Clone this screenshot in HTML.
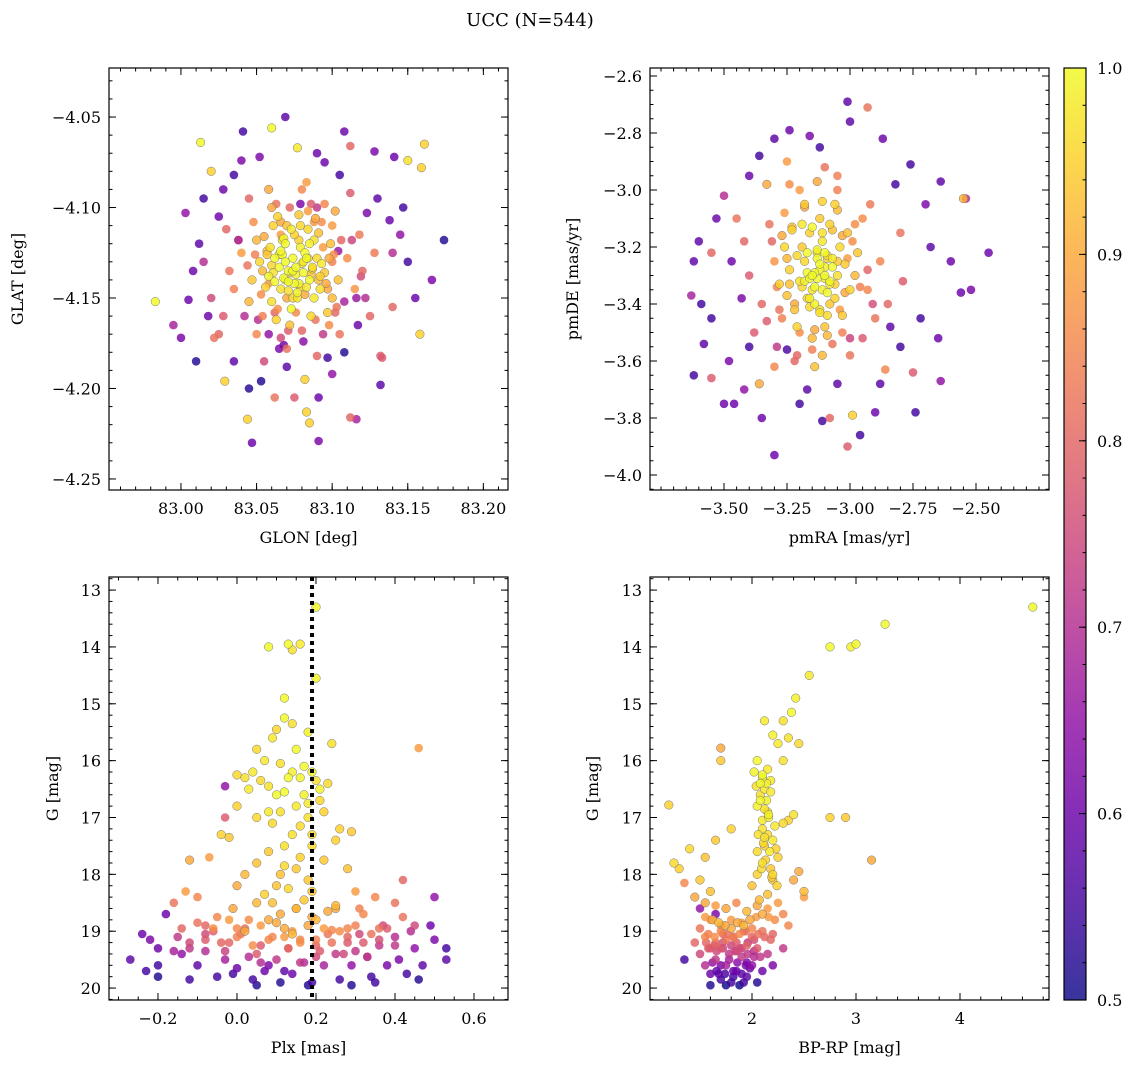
<!DOCTYPE html>
<html><head><meta charset="utf-8"><style>
html,body{margin:0;padding:0;background:#fff;}
svg{display:block;font-family:"DejaVu Serif","Liberation Serif",serif;}
</style></head><body>
<svg id="fig" width="1136" height="1067" viewBox="0 0 1136 1067" xmlns="http://www.w3.org/2000/svg">
<text x="530" y="26" font-size="18" text-anchor="middle">UCC (N=544)</text>
</svg>
<script>
// ---------- data ----------
const posGlon=[83.062,83.071,83.080,83.075,83.066,83.085,83.090,83.058,83.069,83.078,83.088,83.060,83.073,83.095,83.052,83.082,83.065,83.077,83.092,83.056,83.070,83.084,83.099,83.047,83.063,83.086,83.100,83.074,83.068,83.081,83.059,83.093,83.072,83.050,83.104,83.078,83.064,83.088,83.045,83.097,83.067,83.079,83.083,83.061,83.074,83.087,83.071,83.057,83.091,83.076,
83.040,83.110,83.050,83.105,83.035,83.115,83.060,83.095,83.030,83.118,83.070,83.090,83.028,83.125,83.045,83.112,83.080,83.055,83.100,83.048,83.120,83.032,83.132,83.022,83.128,83.062,83.112,83.102,83.058,83.083,83.054,83.098,83.066,83.089,
82.983,82.995,83.000,83.005,83.013,83.010,83.003,83.020,83.020,83.018,83.025,83.029,83.041,83.040,83.044,83.045,83.047,83.060,83.069,83.077,83.091,83.091,83.075,83.108,83.112,83.128,83.141,83.150,83.161,83.159,83.174,83.166,83.158,83.133,83.132,83.116,83.097,83.117,83.150,83.145,83.138,83.155,83.140,83.012,83.008,83.015,83.028,83.035,83.052,83.095,83.105,83.130,83.123,83.035,83.053,83.082,83.083,83.085,83.015,83.140,83.025,83.108,83.065,83.100,83.147,83.090,83.038,83.122,83.070,83.104,
83.055,83.058,83.061,83.064,83.067,83.070,83.073,83.076,83.079,83.082,83.085,83.088,83.091,83.094,83.097,83.100,83.103,83.106,83.053,83.057,83.062,83.066,83.071,83.075,83.080,83.084,83.089,83.093,83.098,83.102,83.049,83.054,83.060,83.065,83.069,83.074,83.078,83.083,83.087,83.092,83.096,83.101,83.044,83.051,83.058,83.066,83.072,83.079,83.086,83.094,83.108,83.113,83.042,83.038,83.116,83.119,83.068,83.081,83.063,83.090,
83.076,83.069,83.084,83.071,83.066,83.079,83.073,83.086,83.062,83.081,83.077,83.068];
const posGlat=[-4.128,-4.135,-4.131,-4.142,-4.145,-4.140,-4.128,-4.138,-4.120,-4.118,-4.150,-4.152,-4.156,-4.136,-4.130,-4.125,-4.133,-4.147,-4.145,-4.144,-4.110,-4.112,-4.120,-4.140,-4.162,-4.160,-4.150,-4.128,-4.139,-4.136,-4.122,-4.131,-4.165,-4.118,-4.140,-4.104,-4.105,-4.118,-4.152,-4.158,-4.126,-4.122,-4.144,-4.136,-4.150,-4.134,-4.141,-4.126,-4.114,-4.137,
-4.125,-4.128,-4.170,-4.170,-4.145,-4.145,-4.100,-4.098,-4.112,-4.115,-4.178,-4.182,-4.160,-4.160,-4.095,-4.092,-4.090,-4.185,-4.110,-4.108,-4.135,-4.135,-4.182,-4.172,-4.125,-4.205,-4.216,-4.102,-4.090,-4.086,-4.160,-4.165,-4.115,-4.106,
-4.152,-4.165,-4.172,-4.151,-4.064,-4.185,-4.103,-4.080,-4.150,-4.160,-4.170,-4.196,-4.058,-4.074,-4.217,-4.200,-4.230,-4.056,-4.050,-4.067,-4.205,-4.229,-4.205,-4.058,-4.066,-4.069,-4.072,-4.074,-4.065,-4.078,-4.118,-4.140,-4.170,-4.183,-4.198,-4.217,-4.183,-4.165,-4.130,-4.115,-4.107,-4.150,-4.155,-4.120,-4.135,-4.095,-4.090,-4.082,-4.072,-4.075,-4.082,-4.095,-4.103,-4.185,-4.196,-4.195,-4.213,-4.219,-4.130,-4.125,-4.105,-4.180,-4.178,-4.192,-4.100,-4.070,-4.118,-4.150,-4.188,-4.124,
-4.116,-4.142,-4.110,-4.156,-4.118,-4.150,-4.112,-4.158,-4.110,-4.148,-4.120,-4.108,-4.140,-4.122,-4.145,-4.130,-4.155,-4.118,-4.148,-4.124,-4.158,-4.108,-4.168,-4.115,-4.168,-4.102,-4.162,-4.108,-4.128,-4.158,-4.126,-4.135,-4.132,-4.126,-4.130,-4.135,-4.142,-4.128,-4.133,-4.138,-4.142,-4.126,-4.132,-4.162,-4.170,-4.172,-4.100,-4.098,-4.098,-4.170,-4.152,-4.118,-4.160,-4.118,-4.150,-4.138,-4.176,-4.174,-4.098,-4.100,
-4.133,-4.140,-4.128,-4.146,-4.124,-4.144,-4.136,-4.137,-4.141,-4.130,-4.150,-4.117];
const posProb=[1,1,.98,1,.97,1,.96,.99,1,.95,.98,.97,1,.94,.96,1,1,.99,.97,.95,.93,.96,.93,.94,.95,.96,.92,1,1,1,.97,.98,.93,.92,.93,.94,.95,.97,.92,.94,1,.99,.98,.97,.96,.95,1,.94,.93,.99,
.88,.86,.85,.82,.84,.87,.9,.85,.8,.83,.82,.8,.78,.8,.8,.78,.85,.75,.88,.86,.8,.82,.78,.82,.83,.82,.8,.9,.9,.88,.84,.86,.88,.9,
1,.68,.62,.6,1,.52,.65,.95,.75,.6,.8,.95,.55,.62,.95,.52,.6,1,.58,.98,.6,.62,.78,.6,.8,.62,.6,.97,.95,.95,.52,.62,.95,.78,.58,.68,.55,.6,.55,.65,.6,.6,.8,.58,.6,.55,.6,.55,.62,.6,.55,.58,.62,.58,.52,.95,.95,.95,.7,.7,.6,.52,.62,.65,.55,.6,.72,.7,.58,.66,
.9,.88,.95,.86,.97,.9,.98,.85,.96,.9,.99,.87,.93,.88,.9,.84,.82,.8,.86,.92,.8,.9,.78,.95,.8,.88,.82,.86,.9,.8,.84,.92,.96,.98,1,1,.99,1,.97,.95,.9,.86,.82,.7,.65,.75,.8,.62,.78,.72,.68,.74,.7,.6,.66,.75,.6,.64,.82,.72,
1,.99,.98,.97,1,.96,.95,.94,1,.98,.97,.99];

const pmRA=[-3.12,-3.08,-3.15,-3.10,-3.05,-3.18,-3.14,-3.06,-3.20,-3.02,-3.11,-3.16,-3.09,-3.22,-3.00,-3.13,-3.07,-3.17,-3.04,-3.19,-3.10,-3.24,-2.98,-3.12,-3.15,-3.08,-3.25,-3.03,-3.13,-3.09,-3.21,-3.26,-3.18,-3.01,-3.11,-3.28,-2.97,-3.06,-3.23,-3.14,-3.10,-3.16,-3.07,-3.12,-3.19,
-3.30,-2.93,-3.27,-2.95,-3.35,-2.90,-3.20,-3.05,-3.32,-2.88,-3.22,-3.00,-3.40,-2.85,-3.38,-2.95,-3.30,-3.10,-3.42,-2.92,-3.36,-2.86,-3.08,-3.55,-3.45,-3.33,-3.25,-2.80,-2.55,-2.79,
-3.63,-3.62,-3.59,-3.58,-3.46,-3.42,-3.30,-3.24,-3.16,-3.01,-2.93,-2.76,-2.64,-2.54,-2.45,-2.52,-2.56,-2.64,-2.75,-2.88,-3.01,-2.99,-3.11,-3.53,-3.60,-3.55,-3.48,-3.40,-3.47,-3.50,-3.36,-3.30,-2.87,-2.82,-2.70,-2.68,-2.72,-2.65,-2.80,-2.90,-3.20,-3.17,-3.35,-3.55,-3.43,-2.60,-2.74,-3.05,-3.25,-2.84,-3.40,-3.12,-3.00,-2.96,-3.62,-3.50,
-3.27,-3.23,-3.19,-3.15,-3.11,-3.07,-3.03,-2.99,-3.25,-3.21,-3.17,-3.13,-3.09,-3.05,-3.01,-3.29,-3.24,-3.18,-3.14,-3.10,-3.06,-3.02,-2.96,-3.28,-3.22,-3.16,-3.12,-3.08,-3.04,-3.20,-3.14,-3.09,-3.03,-3.26,-3.18,-3.11,-3.05,-2.98,-3.31,-3.33,-2.93,-2.91,-3.29,-3.21,-3.15,-3.07,-3.00,-3.24,-3.13,-3.05,
-3.12,-3.14,-3.10,-3.16,-3.08,-3.13,-3.11,-3.15,-3.09,-3.17];
const pmDE=[-3.28,-3.32,-3.35,-3.22,-3.30,-3.25,-3.40,-3.38,-3.32,-3.26,-3.18,-3.15,-3.44,-3.42,-3.35,-3.31,-3.27,-3.29,-3.20,-3.20,-3.48,-3.28,-3.30,-3.10,-3.52,-3.12,-3.37,-3.44,-3.24,-3.36,-3.48,-3.20,-3.05,-3.15,-3.58,-3.33,-3.22,-3.05,-3.13,-3.62,-3.30,-3.38,-3.24,-3.42,-3.34,
-3.25,-3.35,-3.45,-3.10,-3.40,-3.45,-3.00,-2.95,-3.12,-3.25,-3.60,-3.58,-3.30,-3.40,-3.50,-3.52,-3.62,-2.92,-3.18,-3.05,-3.68,-3.63,-3.80,-3.22,-3.10,-2.98,-2.90,-3.15,-3.03,-3.32,
-3.37,-3.25,-3.40,-3.54,-3.75,-3.70,-3.93,-2.79,-2.81,-2.69,-2.71,-2.91,-2.97,-3.03,-3.22,-3.35,-3.36,-3.67,-3.64,-3.68,-3.90,-3.79,-3.81,-3.10,-3.18,-3.45,-3.60,-3.55,-3.25,-3.02,-2.88,-2.82,-2.82,-2.98,-3.05,-3.20,-3.45,-3.52,-3.55,-3.78,-3.75,-3.70,-3.80,-3.66,-3.38,-3.25,-3.78,-3.68,-3.56,-3.48,-2.95,-2.85,-2.76,-3.86,-3.65,-3.75,
-3.16,-3.14,-3.12,-3.13,-3.15,-3.14,-3.16,-3.18,-3.24,-3.23,-3.22,-3.21,-3.23,-3.25,-3.24,-3.34,-3.33,-3.32,-3.34,-3.31,-3.33,-3.36,-3.34,-3.42,-3.40,-3.41,-3.43,-3.40,-3.42,-3.50,-3.49,-3.51,-3.50,-3.08,-3.06,-3.04,-3.07,-3.12,-3.18,-3.46,-3.28,-3.40,-3.55,-3.58,-3.56,-3.54,-3.52,-2.98,-2.97,-3.00,
-3.26,-3.29,-3.27,-3.31,-3.33,-3.22,-3.35,-3.30,-3.24,-3.38];
const pmProb=[1,1,.98,1,.97,.96,.99,.95,.97,.94,.98,.95,.96,.93,.95,1,1,1,.96,.94,.93,.95,.92,.94,.92,.95,.93,.94,1,1,.95,.96,.94,.93,.92,.95,.94,.95,.93,.93,1,.99,.98,.97,.96,
.87,.85,.84,.86,.8,.82,.88,.84,.82,.85,.8,.82,.78,.8,.78,.78,.85,.82,.8,.83,.9,.85,.8,.8,.82,.9,.88,.82,.92,.78,
.68,.58,.55,.58,.6,.65,.6,.6,.62,.58,.82,.55,.58,.7,.6,.62,.6,.65,.78,.58,.78,.95,.55,.6,.58,.55,.62,.55,.6,.7,.55,.58,.6,.55,.62,.58,.55,.6,.55,.6,.55,.58,.6,.78,.62,.6,.55,.58,.56,.58,.6,.55,.58,.55,.55,.6,
.9,.95,.98,1,.97,.93,.9,.86,.92,.96,1,.99,.97,.94,.88,.85,.93,.99,1,.98,.95,.9,.84,.82,.9,.96,.97,.94,.88,.86,.9,.92,.84,.88,.9,.95,.92,.86,.8,.78,.8,.76,.72,.8,.84,.82,.74,.86,.9,.84,
1,1,.99,1,.98,.97,.99,1,.96,.95];

const plx=[0.20,0.13,0.16,0.08,0.14,0.20,0.12,0.12,0.14,0.10,0.09,0.18,0.24,0.05,0.15,0.07,0.11,0.17,0.19,0.00,0.02,0.04,0.06,0.13,0.16,0.20,0.23,0.03,0.08,0.12,0.17,0.21,0.00,0.15,0.11,0.22,0.05,0.18,0.09,0.26,0.29,-0.04,-0.02,0.14,0.25,0.19,0.08,0.16,0.22,0.05,0.12,0.28,0.02,0.18,0.10,
-0.12,-0.07,0.46,-0.03,-0.03,-0.13,-0.16,-0.10,0.00,0.30,0.35,0.40,0.42,0.05,0.15,0.25,0.32,-0.05,0.08,0.20,0.12,0.28,0.36,0.00,-0.08,0.45,0.50,
-0.27,-0.24,-0.22,-0.20,-0.20,-0.18,-0.15,-0.14,-0.12,-0.10,-0.08,-0.06,-0.05,-0.03,-0.02,0.00,0.01,0.03,0.04,0.06,0.07,0.09,0.10,0.11,0.13,0.14,0.16,0.17,0.19,0.20,0.22,0.23,0.25,0.26,0.28,0.29,0.31,0.33,0.34,0.36,0.38,0.40,0.41,0.43,0.45,0.47,0.49,0.50,0.53,0.53,-0.16,-0.12,0.05,0.18,0.29,-0.08,0.02,0.14,0.24,0.37,0.08,0.20,0.30,-0.20,0.44,0.12,-0.01,0.35,0.46,-0.23,
-0.10,-0.06,-0.02,0.02,0.06,0.10,0.14,0.18,0.22,0.26,0.30,0.34,0.38,-0.08,-0.04,0.00,0.04,0.08,0.12,0.16,0.20,0.24,0.28,0.32,0.36,0.40,-0.12,-0.03,0.05,0.13,0.21,0.27,0.33,0.11,0.15,0.19,0.09,0.17,0.23,0.07,0.13,0.19,0.25,-0.01,0.03,0.31,0.42,-0.14,0.06,0.16,
0.10,0.14,0.18,0.12,0.16,0.21,0.08,0.15,0.19,0.11];
const plxG=[13.3,13.95,13.95,14.0,14.05,14.55,14.9,15.25,15.35,15.45,15.6,15.5,15.7,15.8,15.8,16.0,16.05,16.1,16.2,16.25,16.3,16.2,16.35,16.3,16.3,16.35,16.4,16.5,16.45,16.55,16.6,16.7,16.8,16.8,16.9,16.9,17.0,17.0,17.1,17.2,17.25,17.3,17.35,17.3,17.4,17.5,17.6,17.7,17.75,17.8,17.85,17.9,18.0,18.1,18.2,
17.75,17.7,15.78,16.45,17.0,18.3,18.5,18.4,18.2,18.3,18.4,18.5,18.1,18.5,18.6,18.6,18.7,18.75,18.8,18.8,18.95,18.95,18.95,18.95,18.9,18.9,18.4,
19.5,19.05,19.15,19.6,19.8,18.7,19.1,19.4,19.2,19.6,19.35,19.0,19.8,19.5,19.2,19.65,19.05,19.45,19.85,19.25,19.7,19.1,19.5,19.9,19.3,19.75,19.15,19.55,19.9,19.25,19.6,19.05,19.4,19.85,19.2,19.6,19.05,19.45,19.8,19.25,19.6,19.1,19.5,19.75,19.3,19.6,18.9,19.15,19.3,19.5,19.35,19.85,19.95,19.95,19.95,19.05,18.95,19.0,18.98,18.9,19.6,19.45,19.35,19.3,19.0,19.7,19.75,19.9,19.85,19.7,
18.85,18.95,18.8,19.0,18.9,18.85,19.05,18.9,18.95,19.0,18.9,19.05,18.95,19.15,19.2,19.1,19.25,19.15,19.1,19.2,19.15,19.2,19.1,19.2,19.15,19.25,19.3,19.35,19.4,19.3,19.35,19.4,19.45,18.7,18.6,18.75,18.5,18.45,18.65,18.35,18.25,18.3,18.55,18.6,18.8,18.6,18.75,18.95,19.55,19.55,
16.6,16.2,16.75,17.5,17.15,16.5,16.9,17.9,17.3,18.0];
const plxProb=[1,1,.98,1,.97,.99,1,1,.97,.96,.98,.99,.97,.96,1,.98,.97,1,.99,.96,.97,.98,.96,1,.99,.97,.96,.98,.97,1,.99,.96,.95,.98,.97,.95,.96,.97,.96,.95,.94,.95,.94,.97,.95,.96,.94,.95,.94,.93,.96,.93,.92,.94,.93,
.9,.88,.88,.65,.78,.88,.82,.85,.9,.88,.85,.82,.8,.92,.9,.9,.85,.85,.9,.92,.9,.85,.82,.85,.8,.75,.65,
.58,.6,.62,.55,.52,.6,.72,.65,.75,.58,.7,.78,.55,.68,.8,.6,.82,.7,.55,.78,.6,.85,.72,.52,.8,.6,.85,.7,.55,.8,.68,.82,.72,.55,.78,.65,.75,.7,.55,.72,.62,.7,.62,.55,.65,.58,.6,.62,.55,.58,.68,.55,.52,.52,.52,.75,.82,.88,.85,.75,.62,.75,.72,.6,.7,.58,.55,.55,.52,.55,
.82,.86,.88,.9,.88,.9,.92,.9,.88,.86,.84,.82,.78,.78,.8,.84,.86,.85,.88,.86,.84,.82,.8,.78,.76,.72,.72,.74,.78,.8,.78,.75,.72,.9,.92,.9,.93,.94,.9,.95,.96,.94,.92,.9,.86,.84,.82,.8,.7,.72,
1,.99,.98,.97,.96,.99,.98,.94,.96,.93];

const bprp=[4.70,3.28,2.75,2.95,3.00,2.55,2.42,2.38,2.30,2.12,2.20,2.35,2.25,2.45,2.05,2.02,2.15,2.30,2.10,2.12,2.08,2.05,2.15,2.40,2.10,2.30,2.35,2.10,2.15,2.20,2.12,2.05,2.25,2.10,2.18,2.05,2.20,2.00,2.50,1.70,1.20,1.70,1.25,1.30,1.55,1.40,1.50,1.60,1.80,1.65,2.75,2.90,2.08,2.14,2.18,2.04,
3.15,1.35,1.45,1.55,1.65,1.75,1.85,1.95,2.05,2.15,2.25,2.30,2.35,1.60,1.70,1.80,1.90,2.00,2.10,2.20,1.50,1.55,1.65,1.75,1.85,1.95,2.05,2.15,2.30,2.50,2.40,2.45,1.72,1.82,1.92,2.02,
1.35,1.50,1.55,1.60,1.65,1.70,1.75,1.80,1.85,1.90,1.95,2.00,2.05,1.60,1.70,1.85,1.95,2.10,1.75,1.68,1.82,1.58,1.92,2.02,1.65,1.50,2.20,1.45,1.88,
2.10,2.14,2.18,2.08,2.12,2.16,2.22,2.06,2.11,2.17,2.13,2.09,2.19,2.24,2.15,2.07,2.20,2.12,2.16,2.23,
1.55,1.62,1.68,1.74,1.80,1.86,1.92,1.98,2.04,2.10,2.16,2.22,1.58,1.64,1.70,1.76,1.82,1.88,1.94,2.00,2.06,2.12,2.18,1.60,1.66,1.72,1.78,1.84,1.90,1.96,2.02,2.08,1.62,1.70,1.78,1.86,1.94,1.66,1.74,1.82,1.90,1.98,1.56,1.64,1.72,1.80,1.88,1.96];
const bprpG=[13.3,13.6,14.0,14.0,13.95,14.5,14.9,15.15,15.3,15.3,15.55,15.6,15.7,15.7,16.0,16.2,16.15,16.0,16.3,16.5,16.6,16.8,16.9,16.95,17.05,17.1,17.05,17.2,17.3,17.4,17.5,17.6,17.7,17.8,17.9,18.0,18.1,18.2,18.3,15.78,16.78,16.0,17.8,17.9,17.7,17.55,18.1,18.3,17.2,17.4,17.0,17.0,16.4,16.7,16.35,16.45,
17.75,18.15,18.4,18.5,18.55,18.6,18.5,18.65,18.55,18.6,18.5,18.7,18.9,18.8,18.9,18.95,18.85,18.95,19.0,19.05,18.95,19.1,19.2,19.15,19.2,19.25,19.3,19.4,19.3,18.4,18.1,17.95,19.05,19.1,19.0,19.15,
19.5,19.4,19.6,19.75,19.5,19.85,19.6,19.9,19.7,19.45,19.8,19.6,19.9,19.95,19.3,19.35,19.55,19.7,19.95,19.75,19.8,19.3,19.9,19.45,18.7,18.6,19.6,19.2,19.95,
16.25,16.4,16.55,16.7,16.85,17.0,17.15,17.3,17.45,17.6,17.75,17.9,18.05,18.2,18.35,18.45,18.0,17.35,16.95,17.55,
18.75,18.8,18.85,18.9,18.8,18.85,18.9,18.8,18.75,18.7,18.75,18.8,19.05,19.1,19.0,19.05,19.1,19.05,19.0,19.1,19.05,19.1,19.15,19.3,19.35,19.3,19.4,19.35,19.3,19.4,19.35,19.45,19.55,19.6,19.5,19.55,19.6,19.7,19.75,19.7,19.75,19.65,19.2,19.25,19.2,19.25,19.3,19.2];
const bprpProb=[1,1,1,.99,1,.98,.99,1,.97,.98,.99,.97,.98,.96,1,.99,.98,.97,1,.98,.97,.99,.96,.97,.98,.96,.95,.97,.96,.98,.95,.96,.95,.97,.94,.95,.94,.93,.92,.9,.95,.94,.96,.95,.93,.96,.94,.93,.95,.94,.95,.94,1,.99,.98,.97,
.9,.85,.9,.9,.88,.9,.85,.92,.9,.88,.88,.85,.85,.88,.85,.9,.88,.85,.82,.8,.82,.85,.8,.82,.78,.8,.78,.72,.72,.88,.9,.9,.8,.78,.82,.76,
.55,.75,.7,.6,.72,.55,.68,.55,.6,.72,.58,.65,.52,.52,.78,.75,.62,.6,.5,.58,.55,.78,.55,.7,.62,.65,.62,.8,.5,
1,.99,.98,1,.97,.99,.98,.97,.96,.98,.95,.96,.94,.95,.93,.92,.96,.97,.99,.95,
.88,.9,.92,.9,.88,.9,.92,.9,.88,.9,.88,.86,.84,.86,.85,.82,.84,.85,.82,.8,.82,.8,.8,.78,.75,.74,.72,.74,.72,.72,.7,.72,.65,.62,.68,.64,.62,.58,.56,.6,.58,.6,.8,.78,.76,.74,.76,.72];

const plxMedian=0.19;
const cbTicks=[0.5,0.6,0.7,0.8,0.9,1.0];

// ---------- helpers ----------
const NS="http://www.w3.org/2000/svg";
const svg=document.getElementById('fig');
function el(tag,attrs,parent){const e=document.createElementNS(NS,tag);for(const k in attrs)e.setAttribute(k,attrs[k]);(parent||svg).appendChild(e);return e;}
const stops=[[13,8,135],[65,4,157],[106,0,168],[143,13,164],[177,42,144],[204,71,120],[225,100,98],[242,132,75],[252,166,54],[252,206,37],[240,249,33]];
function plasma(t){t=Math.max(0,Math.min(1,t));const s=t*10;const i=Math.min(9,Math.floor(s));const f=s-i;const a=stops[i],b=stops[i+1];
 return 'rgb('+[0,1,2].map(k=>Math.round(a[k]+(b[k]-a[k])*f)).join(',')+')';}
function pcol(p){return plasma((p-0.5)/0.5);}
function fmt(v,d){const s=v.toFixed(d);return s.startsWith('-')?'\u2212'+s.slice(1):s;}

function panel(c){
 const g=el('g',{});
 
 
 const sx=v=>c.x0+(v-c.xmin)/(c.xmax-c.xmin)*(c.x1-c.x0);
 const sy=v=>c.invert? c.y0+(v-c.ymin)/(c.ymax-c.ymin)*(c.y1-c.y0) : c.y1-(v-c.ymin)/(c.ymax-c.ymin)*(c.y1-c.y0);
 const clip='clip-'+c.name;
 const cp=el('clipPath',{id:clip},g);el('rect',{x:c.x0,y:c.y0,width:c.x1-c.x0,height:c.y1-c.y0},cp);
 const pts=el('g',{'clip-path':'url(#'+clip+')'},g);
 
 
 const idx=c.xs.map((_,i)=>i).sort((a,b)=>c.ps[a]-c.ps[b]);
 idx.forEach(i=>{
  const p=c.ps[i];
  const ci=el('circle',{cx:sx(c.xs[i]).toFixed(1),cy:sy(c.ys[i]).toFixed(1),r:4.3,fill:pcol(p),'fill-opacity':0.82,stroke:p>=0.9?'#777':'none','stroke-width':0.5},pts);
  
  
 });
 if(c.vline!==undefined){
  const l=el('line',{x1:sx(c.vline),x2:sx(c.vline),y1:c.y0,y2:c.y1,stroke:'#000','stroke-width':4,'stroke-dasharray':'4,4'},g);
  
  
 }
 el('rect',{x:c.x0,y:c.y0,width:c.x1-c.x0,height:c.y1-c.y0,fill:'none',stroke:'#000','stroke-width':1.2},g);
 const tk=el('g',{stroke:'#000','stroke-width':1},g);
 for(let v=Math.ceil(c.xmin/c.xminor-1e-6)*c.xminor; v<=c.xmax+1e-9; v+=c.xminor){const X=sx(v);
  el('line',{x1:X,x2:X,y1:c.y1,y2:c.y1-3.5},tk);el('line',{x1:X,x2:X,y1:c.y0,y2:c.y0+3.5},tk);}
 for(let v=Math.ceil(c.ymin/c.yminor-1e-6)*c.yminor; v<=c.ymax+1e-9; v+=c.yminor){const Y=sy(v);
  el('line',{x1:c.x0,x2:c.x0+3.5,y1:Y,y2:Y},tk);el('line',{x1:c.x1,x2:c.x1-3.5,y1:Y,y2:Y},tk);}
 c.xticks.forEach(v=>{const X=sx(v);
  el('line',{x1:X,x2:X,y1:c.y1,y2:c.y1-7},tk);el('line',{x1:X,x2:X,y1:c.y0,y2:c.y0+7},tk);
  const t=el('text',{x:X,y:c.y1+24,'font-size':16,'text-anchor':'middle'},g);t.textContent=fmt(v,c.xd);
  
  });
 c.yticks.forEach(v=>{const Y=sy(v);
  el('line',{x1:c.x0,x2:c.x0+7,y1:Y,y2:Y},tk);el('line',{x1:c.x1,x2:c.x1-7,y1:Y,y2:Y},tk);
  const t=el('text',{x:c.x0-8,y:Y+6,'font-size':16,'text-anchor':'end'},g);t.textContent=fmt(v,c.yd);
  
  });
 const xl=el('text',{x:(c.x0+c.x1)/2,y:c.y1+53,'font-size':16,'text-anchor':'middle'},g);xl.textContent=c.xlabel;
 
 
 const yl=el('text',{x:c.ylx,y:(c.y0+c.y1)/2,'font-size':16,'text-anchor':'middle',transform:'rotate(-90 '+c.ylx+' '+(c.y0+c.y1)/2+')'},g);yl.textContent=c.ylabel;
 
 
}

panel({name:'panel-position',x0:109,x1:508,y0:68,y1:490,xmin:82.9524,xmax:83.2163,ymin:-4.2561,ymax:-4.0229,
 xs:posGlon,ys:posGlat,ps:posProb,xticks:[83.00,83.05,83.10,83.15,83.20],xd:2,yticks:[-4.25,-4.20,-4.15,-4.10,-4.05],yd:2,
 xminor:0.01,yminor:0.01,xlabel:'GLON [deg]',ylabel:'GLAT [deg]',ylx:23});
panel({name:'panel-proper-motion',x0:650,x1:1049,y0:68,y1:490,xmin:-3.7937,xmax:-2.2103,ymin:-4.0526,ymax:-2.5719,
 xs:pmRA,ys:pmDE,ps:pmProb,xticks:[-3.50,-3.25,-3.00,-2.75,-2.50],xd:2,yticks:[-4.0,-3.8,-3.6,-3.4,-3.2,-3.0,-2.8,-2.6],yd:1,
 xminor:0.05,yminor:0.05,xlabel:'pmRA [mas/yr]',ylabel:'pmDE [mas/yr]',ylx:578});
panel({name:'panel-plx-g',x0:109,x1:508,y0:577,y1:1000,xmin:-0.324,xmax:0.6861,ymin:12.77,ymax:20.21,invert:true,
 xs:plx,ys:plxG,ps:plxProb,xticks:[-0.2,0.0,0.2,0.4,0.6],xd:1,yticks:[13,14,15,16,17,18,19,20],yd:0,
 xminor:0.05,yminor:0.2,xlabel:'Plx [mas]',ylabel:'G [mag]',ylx:58,vline:plxMedian});
panel({name:'panel-cmd',x0:650,x1:1049,y0:577,y1:1000,xmin:1.0192,xmax:4.8558,ymin:12.77,ymax:20.21,invert:true,
 xs:bprp,ys:bprpG,ps:bprpProb,xticks:[2,3,4],xd:0,yticks:[13,14,15,16,17,18,19,20],yd:0,
 xminor:0.2,yminor:0.2,xlabel:'BP-RP [mag]',ylabel:'G [mag]',ylx:598});

// colorbar
(function(){
 const x0=1064,x1=1086,y0=68,y1=1000;
 const g=el('g',{});
 
 
 const defs=el('defs',{},g);
 const lg=el('linearGradient',{id:'cbg',x1:0,y1:1,x2:0,y2:0},defs);
 for(let i=0;i<=20;i++){el('stop',{offset:(i/20),'stop-color':plasma(i/20),'stop-opacity':0.82},lg);}
 el('rect',{x:x0,y:y0,width:x1-x0,height:y1-y0,fill:'url(#cbg)',stroke:'#000','stroke-width':1.2},g);
 const sy=v=>y1-(v-0.5)/0.5*(y1-y0);
 for(let v=0.52;v<1.0;v+=0.02){el('line',{x1:x1,x2:x1-3.5,y1:sy(v),y2:sy(v),stroke:'#000'},g);}
 cbTicks.forEach(v=>{const Y=sy(v);el('line',{x1:x1,x2:x1-7,y1:Y,y2:Y,stroke:'#000'},g);
  const t=el('text',{x:x1+11,y:Y+6,'font-size':16},g);t.textContent=v.toFixed(1);
  
  });
})();
</script>
</body></html>
